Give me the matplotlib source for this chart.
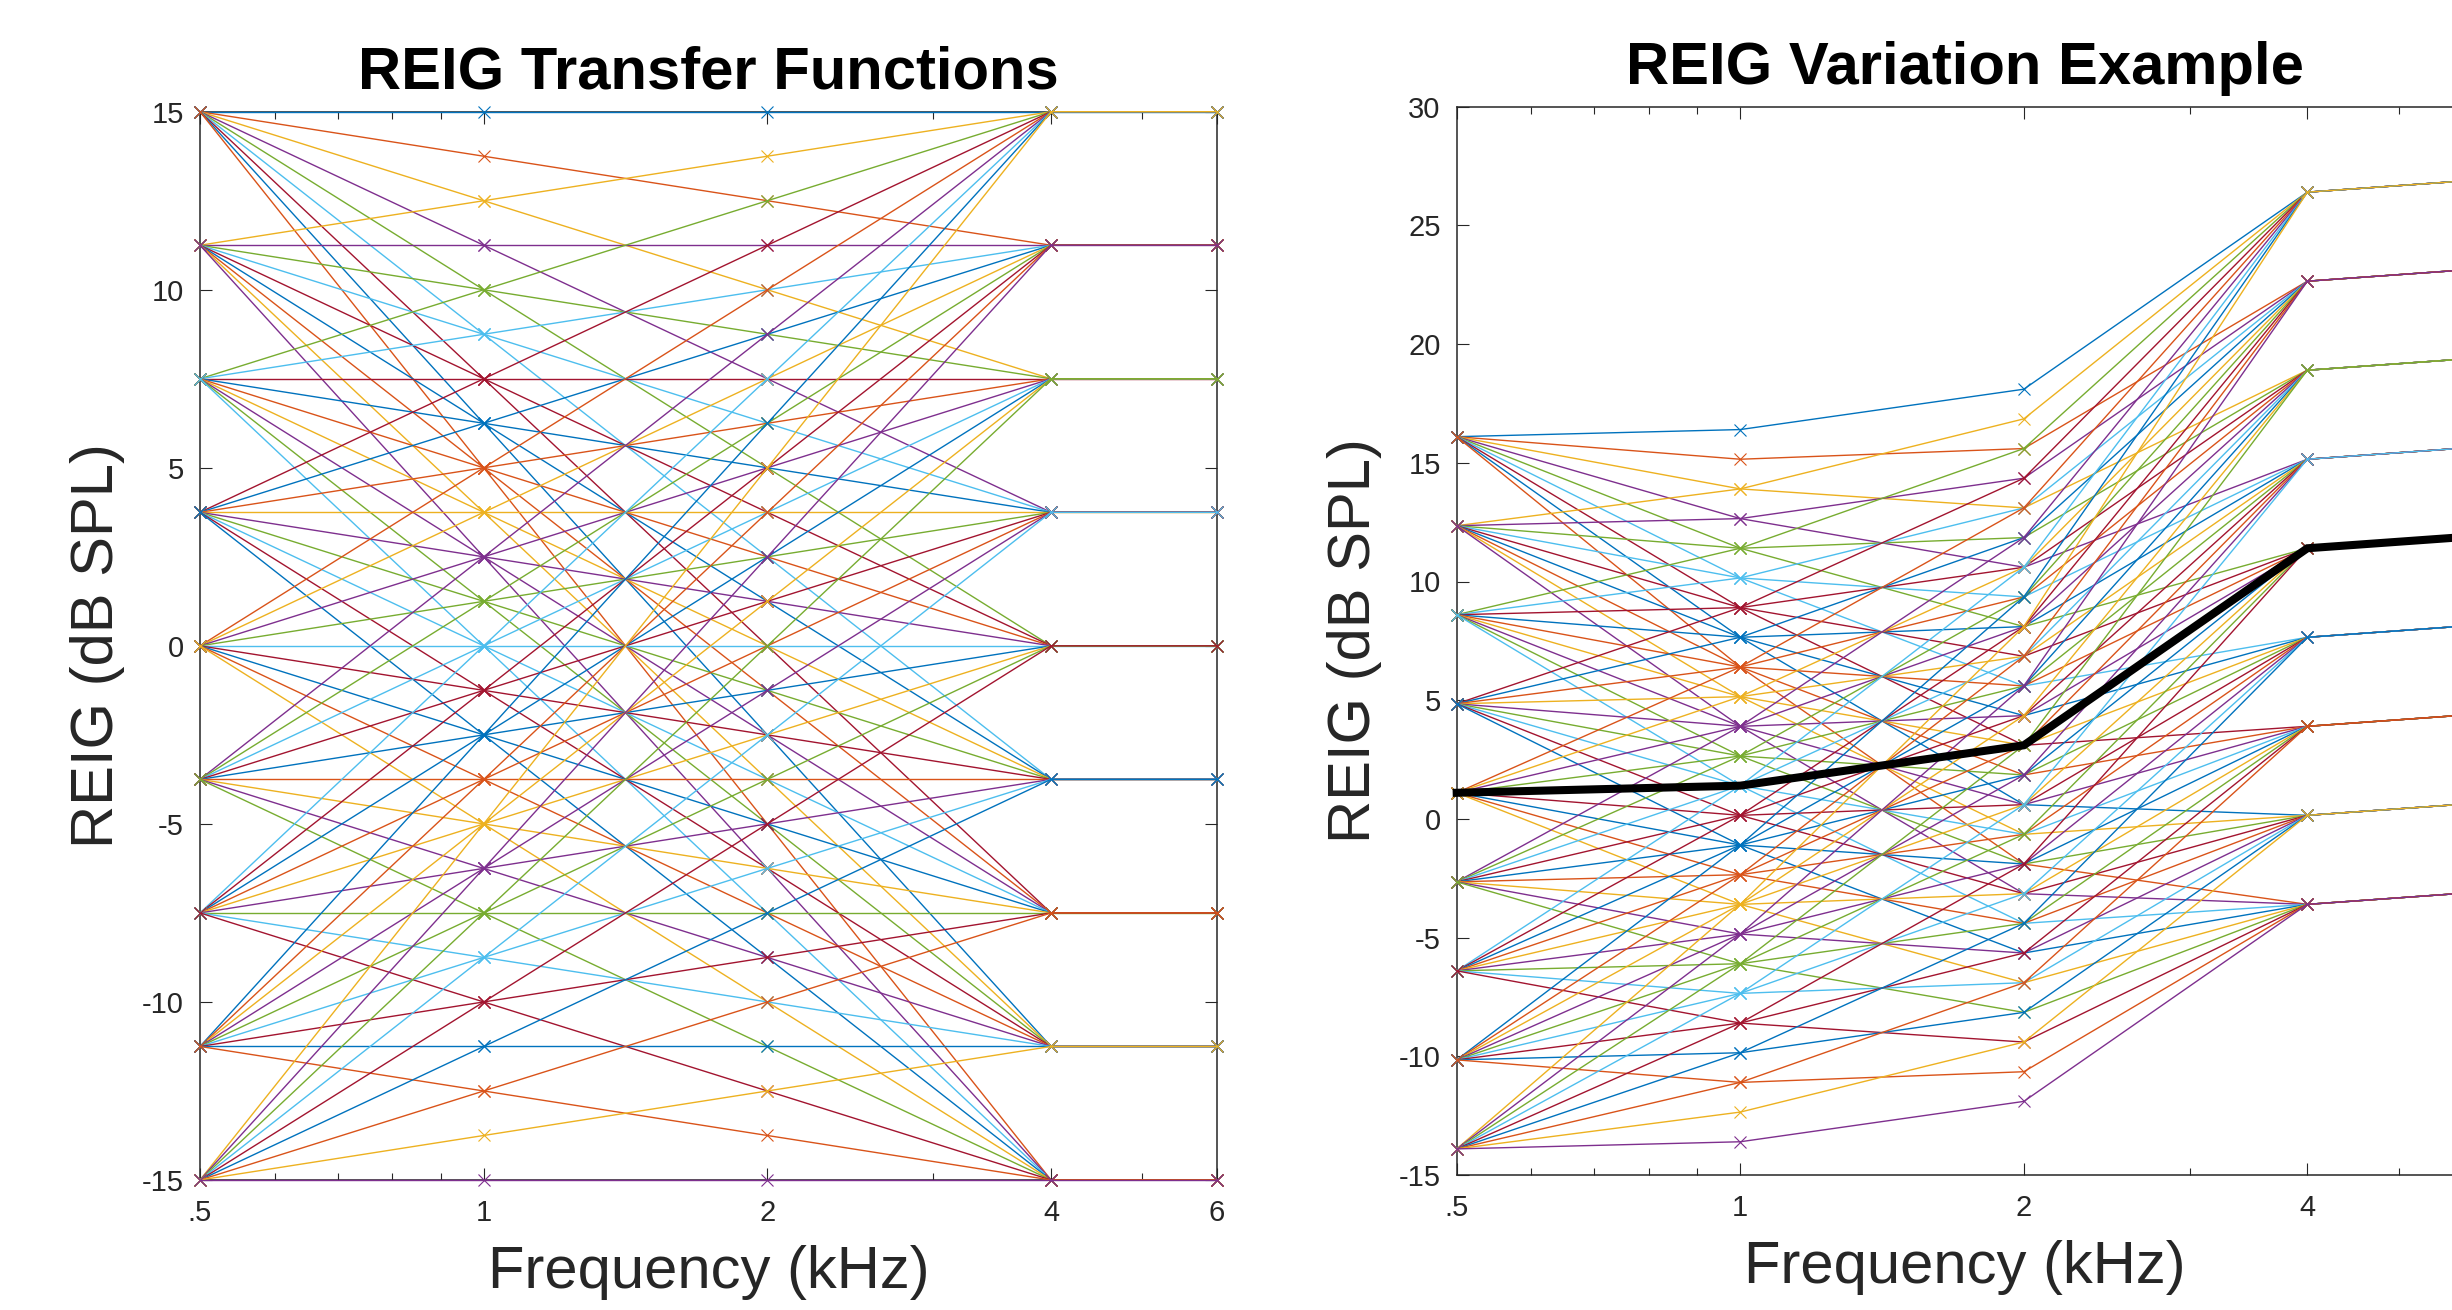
import matplotlib
matplotlib.use('Agg')
import matplotlib.pyplot as plt
from matplotlib.ticker import FixedLocator, FixedFormatter, NullFormatter

plt.rcParams['font.family'] = ['Liberation Sans', 'DejaVu Sans']
plt.rcParams['axes.unicode_minus'] = False

# ---------------- data ----------------
freqs = [0.5, 1, 2, 4, 6]
freq_tick_labels = ['.5', '1', '2', '4', '6']
minor_freqs = [0.6, 0.7, 0.8, 0.9, 3, 5]

# transfer-function gain at 0.5 kHz (rows) and at 4/6 kHz (columns)
start_levels = [15, 11.25, 7.5, 3.75, 0, -3.75, -7.5, -11.25, -15]
end_levels = [15, 11.25, 7.5, 3.75, 0, -3.75, -7.5, -11.25, -15]

# gain at 1 kHz, row = start level, column = end level
tf_1k = [
    [15, 13.75, 12.5, 11.25, 10, 8.75, 7.5, 6.25, 5],
    [12.5, 11.25, 10, 8.75, 7.5, 6.25, 5, 3.75, 2.5],
    [10, 8.75, 7.5, 6.25, 5, 3.75, 2.5, 1.25, 0],
    [7.5, 6.25, 5, 3.75, 2.5, 1.25, 0, -1.25, -2.5],
    [5, 3.75, 2.5, 1.25, 0, -1.25, -2.5, -3.75, -5],
    [2.5, 1.25, 0, -1.25, -2.5, -3.75, -5, -6.25, -7.5],
    [0, -1.25, -2.5, -3.75, -5, -6.25, -7.5, -8.75, -10],
    [-2.5, -3.75, -5, -6.25, -7.5, -8.75, -10, -11.25, -12.5],
    [-5, -6.25, -7.5, -8.75, -10, -11.25, -12.5, -13.75, -15],
]
# gain at 2 kHz
tf_2k = [
    [15, 12.5, 10, 7.5, 5, 2.5, 0, -2.5, -5],
    [13.75, 11.25, 8.75, 6.25, 3.75, 1.25, -1.25, -3.75, -6.25],
    [12.5, 10, 7.5, 5, 2.5, 0, -2.5, -5, -7.5],
    [11.25, 8.75, 6.25, 3.75, 1.25, -1.25, -3.75, -6.25, -8.75],
    [10, 7.5, 5, 2.5, 0, -2.5, -5, -7.5, -10],
    [8.75, 6.25, 3.75, 1.25, -1.25, -3.75, -6.25, -8.75, -11.25],
    [7.5, 5, 2.5, 0, -2.5, -5, -7.5, -10, -12.5],
    [6.25, 3.75, 1.25, -1.25, -3.75, -6.25, -8.75, -11.25, -13.75],
    [5, 2.5, 0, -2.5, -5, -7.5, -10, -12.5, -15],
]

# example REIG (thick black curve)
base_reig = [1.1, 1.4, 3.1, 11.4, 11.9]

left_yticks = [-15, -10, -5, 0, 5, 10, 15]
right_yticks = [-15, -10, -5, 0, 5, 10, 15, 20, 25, 30]

colors = ['#0072BD', '#D95319', '#EDB120', '#7E2F8E',
          '#77AC30', '#4DBEEE', '#A2142F']

title_left = 'REIG Transfer Functions'
title_right = 'REIG Variation Example'
xlabel = 'Frequency (kHz)'
ylabel = 'REIG (dB SPL)'

# ---------------- figure ----------------
W, H = 2452, 1310
fig = plt.figure(figsize=(W / 100, H / 100), dpi=100)

axL = fig.add_axes([200 / W, (H - 1180) / H, 1017 / W, 1068.3 / H])
axR = fig.add_axes([1456.7 / W, (H - 1175) / H, 1016.5 / W, 1068.3 / H])

spine_col = '#262626'


def style(ax, yticks, ylim, title, tpad):
    ax.set_xscale('log')
    ax.set_xlim(freqs[0], freqs[-1])
    ax.set_ylim(*ylim)
    ax.xaxis.set_major_locator(FixedLocator(freqs))
    ax.xaxis.set_major_formatter(FixedFormatter(freq_tick_labels))
    ax.xaxis.set_minor_locator(FixedLocator(minor_freqs))
    ax.xaxis.set_minor_formatter(NullFormatter())
    ax.yaxis.set_major_locator(FixedLocator(yticks))
    ax.yaxis.set_major_formatter(FixedFormatter([str(v) for v in yticks]))
    ax.tick_params(which='both', direction='in', top=True, right=True,
                   color=spine_col, labelcolor=spine_col, width=0.8)
    ax.tick_params(which='major', length=8.5, labelsize=21)
    ax.tick_params(which='minor', length=5)
    ax.tick_params(axis='x', which='major', pad=13.5)
    ax.tick_params(axis='y', which='major', pad=11.5)
    for s in ax.spines.values():
        s.set_color(spine_col)
        s.set_linewidth(1.1)
        s.set_zorder(1)
    ax.set_title(title, fontsize=43, fontweight='bold', pad=tpad, color='black')
    ax.set_xlabel(xlabel, fontsize=43, va='baseline', color=spine_col)
    ax.xaxis.set_label_coords(0.5, -0.101)
    ax.set_ylabel(ylabel, fontsize=43, va='center', ha='center', color=spine_col)
    ax.yaxis.set_label_coords(-0.101, 0.5)


k = 0
for i in range(len(start_levels)):
    for j in range(len(end_levels)):
        tf = [start_levels[i], tf_1k[i][j], tf_2k[i][j], end_levels[j], end_levels[j]]
        c = colors[k % len(colors)]
        axL.plot(freqs, tf, color=c, lw=1.0, marker='x', ms=9, mew=0.8,
                 clip_on=False, zorder=3)
        axR.plot(freqs, [t + b for t, b in zip(tf, base_reig)], color=c, lw=1.0,
                 marker='x', ms=9, mew=0.8, clip_on=False, zorder=3)
        k += 1

axR.plot(freqs, base_reig, color='black', lw=5.8, clip_on=False, zorder=4,
         solid_joinstyle='miter')

style(axL, left_yticks, (-15, 15), title_left, 17)
style(axR, right_yticks, (-15, 30), title_right, 16)

fig.savefig('out.png', dpi=100)
